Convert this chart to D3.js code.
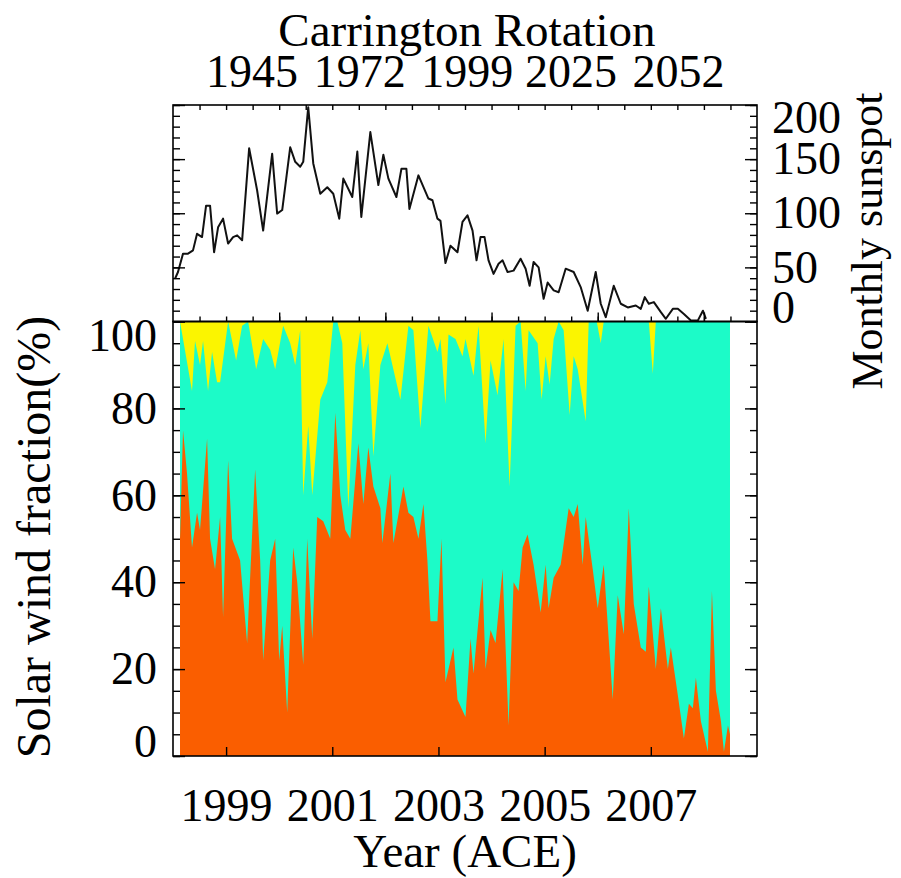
<!DOCTYPE html>
<html>
<head>
<meta charset="utf-8">
<script src="https://cdn.jsdelivr.net/npm/d3@7"></script>
<style>
  body { margin: 0; background: #fff; }
  svg text { font-family: "Liberation Serif", "DejaVu Serif", serif; fill: #000; }
</style>
</head>
<body>
<div id="chart"></div>
<script>
// ! Data

// monthly sunspot number, top panel
var sunspot_years = [1998.038,1998.094,1998.189,1998.283,1998.377,1998.453,1998.547,1998.623,1998.698,1998.774,
  1998.849,1998.943,1999.038,1999.132,1999.208,1999.302,1999.434,1999.585,1999.698,1999.868,
  1999.962,2000.057,2000.208,2000.302,2000.396,2000.453,2000.547,2000.642,2000.774,2000.906,
  2001.019,2001.132,2001.208,2001.377,2001.472,2001.547,2001.717,2001.868,2001.962,2002.057,
  2002.208,2002.302,2002.396,2002.453,2002.623,2002.811,2002.887,2002.981,2003.038,2003.132,
  2003.226,2003.358,2003.453,2003.547,2003.642,2003.717,2003.792,2003.868,2003.943,2004.038,
  2004.132,2004.208,2004.302,2004.415,2004.547,2004.642,2004.717,2004.792,2004.887,2004.981,
  2005.057,2005.170,2005.264,2005.396,2005.547,2005.679,2005.811,2005.962,2006.057,2006.151,
  2006.302,2006.434,2006.566,2006.717,2006.811,2006.887,2006.962,2007.057,2007.189,2007.283,
  2007.415,2007.509,2007.623,2007.755,2007.887,2007.981,2008.038];
var sunspot_values = [39.5,45.7,62.7,62.7,65.7,81,78,107,107,64,
  87,95,72,78,79.6,75,160,121,84,155,
  99.7,103,161,147.5,143,147.5,198,146,118,124,
  118,95,132,115,157,96.6,175,126,154,132,
  115,141,141,104,135,113.6,112,95,93,54,
  70,64,92,98,84,56.5,78,78,56.5,44,
  53.4,56.5,45.7,47,58,48.8,33,55,50,21,
  36,28.7,27,48.8,45.7,31.8,10,45.7,16.4,4,
  33,16.4,13,14.8,11.7,22.5,16.4,17.9,8.6,2.5,
  11.7,11.7,7,1,1,10,2.5];

// orange wind fraction (%), bottom layer
var orange_years = [1998.132,1998.189,1998.264,1998.358,1998.453,1998.509,1998.642,1998.698,1998.792,1998.887,
  1998.943,1999.038,1999.113,1999.264,1999.396,1999.547,1999.642,1999.698,1999.830,1999.925,
  2000.000,2000.057,2000.151,2000.264,2000.340,2000.453,2000.528,2000.623,2000.717,2000.830,
  2000.962,2001.057,2001.151,2001.245,2001.340,2001.491,2001.585,2001.679,2001.774,2001.906,
  2001.943,2002.094,2002.151,2002.340,2002.434,2002.528,2002.623,2002.717,2002.792,2002.849,
  2002.981,2003.057,2003.132,2003.283,2003.358,2003.509,2003.604,2003.660,2003.830,2003.887,
  2003.981,2004.075,2004.208,2004.321,2004.415,2004.509,2004.585,2004.679,2004.792,2004.925,
  2005.019,2005.075,2005.170,2005.302,2005.453,2005.547,2005.623,2005.717,2005.774,2005.906,
  2006.000,2006.113,2006.283,2006.377,2006.491,2006.585,2006.679,2006.811,2006.906,2006.962,
  2007.094,2007.189,2007.321,2007.377,2007.509,2007.623,2007.717,2007.792,2007.849,2007.943,
  2008.075,2008.151,2008.226,2008.321,2008.377,2008.453,2008.491];
var orange_pct = [50,75,65,48,56,52,73,50,43,55,
  32,68,50,45,26,66,45,22,45,50,
  22,30,10,48,40,21,50,27,55,54,
  50,79,60,52,50,72,58,71,62,57,
  49,65,49,62,56,55,50,58,45,31,
  31,50,17,25,13,9,27,19,41,20,
  29,26,43,7,40,38,48,51,44,33,
  44,34,41,44,57,55,58,44,55,43,
  34,44,13,37,28,57,35,25,24,39,
  20,34,20,25,14,4,12,11,18,8,
  1,38,15,8,1,7,5];

// yellow wind fraction (%), top layer; cyan fills the rest
var yellow_years = [1998.132,1998.358,1998.415,1998.509,1998.566,1998.660,1998.736,1998.830,1998.887,1999.038,
  1999.189,1999.302,1999.415,1999.566,1999.698,1999.830,1999.925,2000.075,2000.208,2000.302,
  2000.396,2000.453,2000.547,2000.623,2000.774,2000.906,2001.019,2001.094,2001.189,2001.302,
  2001.434,2001.528,2001.585,2001.679,2001.774,2001.906,2002.038,2002.283,2002.434,2002.528,
  2002.660,2002.811,2002.981,2003.038,2003.132,2003.189,2003.321,2003.453,2003.509,2003.660,
  2003.755,2003.887,2003.981,2004.113,2004.226,2004.340,2004.453,2004.547,2004.642,2004.698,
  2004.868,2004.943,2005.019,2005.094,2005.170,2005.264,2005.358,2005.472,2005.547,2005.623,
  2005.774,2005.830,2005.981,2006.057,2006.113,2006.962,2007.038,2007.094,2008.491];
var yellow_pct = [0,16,4.5,10,4.5,16,7,14,14,0,
  9,1,0,11,4,6.5,11,1,5,10,
  2,40,24,40,18,14,0,0,5,43,
  10,2,11,5,31,10,5,18,1,2,
  24.5,1,7,4,19,3,4,8,4,12.5,
  1,28,9,17,4,38,1,0,16,2,
  5,18,8,14.5,4,0,2,21.5,8,11,
  23,0,0,5,0,0,12,0,0];

// axis labels
var year_ticks = [1999, 2001, 2003, 2005, 2007];
var cr_labels = [1945, 1972, 1999, 2025, 2052];
var sunspot_ticks = [0, 50, 100, 150, 200];
var fraction_ticks = [0, 20, 40, 60, 80, 100];

// ! Layout
var width = 901, height = 878;
var plot_left = 173, plot_right = 757,
    top_y = 105, mid_y = 321.5, bottom_y = 756;

var svg = d3.select("#chart")
  .append("svg")
  .attr("width", width)
  .attr("height", height);

var x = d3.scaleLinear().domain([1998, 2009]).range([plot_left, plot_right]);
var x_cr = d3.scaleLinear().domain([1925.3, 2071.8]).range([plot_left, plot_right]);
var y_ss = d3.scaleLinear().domain([0, 200]).range([mid_y, top_y]);
var y_frac = d3.scaleLinear().domain([0, 100]).range([bottom_y, mid_y]);

// ! Stacked fractions (painted back to front)
var yellow_full = yellow_years.map(function(d) { return { year: d, value: 100 }; });
var cyan_top = yellow_years.map(function(d, i) { return { year: d, value: 100 - yellow_pct[i] }; });
var orange_top = orange_years.map(function(d, i) { return { year: d, value: orange_pct[i] }; });

var frac_area = d3.area()
  .x(function(d) { return x(d.year); })
  .y0(y_frac(0))
  .y1(function(d) { return y_frac(d.value); });

svg.append("path").datum(yellow_full).attr("d", frac_area).attr("fill", "#fbf500");
svg.append("path").datum(cyan_top).attr("d", frac_area).attr("fill", "#1cfbc8");
svg.append("path").datum(orange_top).attr("d", frac_area).attr("fill", "#fa5e00");

// ! Sunspot line
var ss_data = sunspot_years.map(function(d, i) { return { year: d, value: sunspot_values[i] }; });
svg.append("path")
  .datum(ss_data)
  .attr("fill", "none")
  .attr("stroke", "#111")
  .attr("stroke-width", 2)
  .attr("stroke-linejoin", "round")
  .attr("d", d3.line()
    .x(function(d) { return x(d.year); })
    .y(function(d) { return y_ss(d.value); }));

// ! Axes
function tidy(g, size) {
  g.select(".domain").remove();
  g.attr("font-size", null).attr("font-family", null);
  g.selectAll("line").attr("stroke", "#000").attr("stroke-width", 1.4);
  g.selectAll("text").style("font-size", size + "px");
  return g;
}

// top panel, left and right
svg.append("g").attr("transform", "translate(" + plot_left + ",0)")
  .call(d3.axisLeft(y_ss).tickValues(d3.range(0, 201, 10)).tickSize(-7).tickFormat(""))
  .call(tidy, 46);
svg.append("g").attr("transform", "translate(" + plot_left + ",0)")
  .call(d3.axisLeft(y_ss).tickValues(sunspot_ticks).tickSize(-12).tickFormat(""))
  .call(tidy, 46);
svg.append("g").attr("transform", "translate(" + plot_right + ",0)")
  .call(d3.axisRight(y_ss).tickValues(d3.range(0, 201, 10)).tickSize(-7).tickFormat(""))
  .call(tidy, 46);
var ss_axis = svg.append("g").attr("transform", "translate(" + plot_right + ",0)")
  .call(d3.axisRight(y_ss).tickValues(sunspot_ticks).tickSize(-12).tickPadding(15))
  .call(tidy, 46);
ss_axis.selectAll("text").attr("dy", function(d) {
  return d === 200 ? "0.6em" : d === 0 ? "0.02em" : "0.32em";
});

// top panel, top and bottom edges
svg.append("g").attr("transform", "translate(0," + top_y + ")")
  .call(d3.axisTop(x).tickValues(d3.range(1998.5, 2009, 0.5)).tickSize(-5).tickFormat(""))
  .call(tidy, 46);
svg.append("g").attr("transform", "translate(0," + mid_y + ")")
  .call(d3.axisBottom(x).tickValues(d3.range(1998.5, 2009, 0.5)).tickSize(-5).tickFormat(""))
  .call(tidy, 46);
svg.append("g").attr("transform", "translate(0," + mid_y + ")")
  .call(d3.axisBottom(x).tickValues(d3.range(2000, 2009, 2)).tickSize(-9).tickFormat(""))
  .call(tidy, 46);

// Carrington rotation labels
svg.append("g").attr("transform", "translate(0," + top_y + ")")
  .call(d3.axisTop(x_cr).tickValues(cr_labels).tickSize(0).tickPadding(18).tickFormat(d3.format("d")))
  .call(tidy, 46);

// bottom panel, left and right
svg.append("g").attr("transform", "translate(" + plot_left + ",0)")
  .call(d3.axisLeft(y_frac).tickValues(d3.range(0, 101, 5)).tickSize(-7).tickFormat(""))
  .call(tidy, 46);
var frac_axis = svg.append("g").attr("transform", "translate(" + plot_left + ",0)")
  .call(d3.axisLeft(y_frac).tickValues(fraction_ticks).tickSize(-12).tickPadding(16))
  .call(tidy, 46);
frac_axis.selectAll("text").attr("dy", function(d) {
  return d === 100 ? "0.62em" : d === 0 ? "0em" : "0.32em";
});
svg.append("g").attr("transform", "translate(" + plot_right + ",0)")
  .call(d3.axisRight(y_frac).tickValues(d3.range(0, 101, 5)).tickSize(-7).tickFormat(""))
  .call(tidy, 46);
svg.append("g").attr("transform", "translate(" + plot_right + ",0)")
  .call(d3.axisRight(y_frac).tickValues(fraction_ticks).tickSize(-12).tickFormat(""))
  .call(tidy, 46);

// bottom panel, years
svg.append("g").attr("transform", "translate(0," + bottom_y + ")")
  .call(d3.axisBottom(x).tickValues(year_ticks).tickSize(-9).tickPadding(32).tickFormat(d3.format("d")))
  .call(tidy, 46);

// ! Frames
svg.append("rect")
  .attr("x", plot_left).attr("y", top_y)
  .attr("width", plot_right - plot_left).attr("height", mid_y - top_y)
  .attr("fill", "none").attr("stroke", "#000").attr("stroke-width", 1.6);
svg.append("rect")
  .attr("x", plot_left).attr("y", mid_y)
  .attr("width", plot_right - plot_left).attr("height", bottom_y - mid_y)
  .attr("fill", "none").attr("stroke", "#000").attr("stroke-width", 1.6);

// ! Titles
svg.append("text")
  .attr("x", 467).attr("y", 46)
  .attr("text-anchor", "middle")
  .style("font-size", "47px")
  .text("Carrington Rotation");

svg.append("text")
  .attr("x", 465).attr("y", 867)
  .attr("text-anchor", "middle")
  .style("font-size", "47px")
  .text("Year (ACE)");

svg.append("text")
  .attr("transform", "translate(50,537) rotate(-90)")
  .attr("text-anchor", "middle")
  .style("font-size", "48px")
  .text("Solar wind fraction(%)");

svg.append("text")
  .attr("transform", "translate(882,241) rotate(-90)")
  .attr("text-anchor", "middle")
  .style("font-size", "44px")
  .text("Monthly sunspot");
</script>
</body>
</html>
